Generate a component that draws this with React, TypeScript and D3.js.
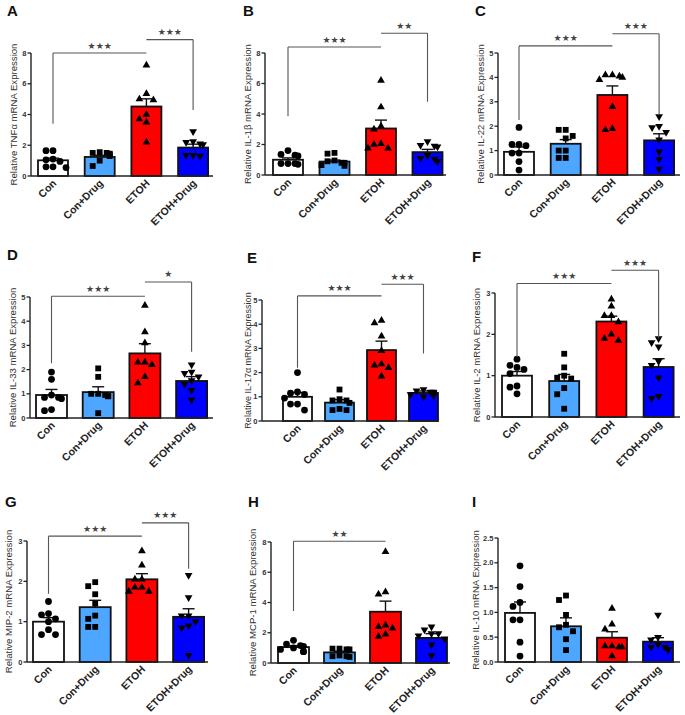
import React from 'react';
import * as d3 from 'd3';

const groups = ['Con', 'Con+Drug', 'ETOH', 'ETOH+Drug'];
const groupFills = ['#ffffff', '#4da6ff', '#ff0000', '#0000ff'];

// ---- Panel A: TNFα
const tnfTicks = [0, 2, 4, 6, 8];
const tnfMean = [1.02, 1.24, 4.52, 1.85];
const tnfSem = [0.14, 0.1, 0.5, 0.22];
const tnfPoints = [
  [1.65, 1.65, 1.05, 1.1, 0.95, 0.6, 0.55, 0.6],
  [1.55, 1.5, 1.5, 1.45, 1.4, 1.3, 1.0, 0.65],
  [7.2, 5.35, 5.0, 4.95, 4.0, 3.7, 3.5, 2.2],
  [2.9, 2.25, 2.2, 2.1, 2.05, 1.35, 1.35, 1.3],
];
const tnfSig = [
  { a: 0, b: 2, y: 8.0, leg: 3.4, side: 0, t: '***' },
  { a: 2, b: 3, y: 8.87, leg: 4.3, side: 1, t: '***' },
];

// ---- Panel B: IL-1β
const il1Ticks = [0, 2, 4, 6, 8];
const il1Mean = [1.0, 0.88, 3.05, 1.5];
const il1Sem = [0.12, 0.1, 0.55, 0.18];
const il1Points = [
  [1.6, 1.3, 1.35, 1.25, 0.75, 0.75, 0.7, 0.75],
  [1.45, 1.4, 0.9, 0.8, 0.8, 0.95, 0.65, 0.6],
  [6.2, 4.45, 3.2, 3.0, 2.05, 1.75, 1.75, 2.0],
  [2.2, 1.9, 1.85, 1.95, 1.3, 1.1, 0.9, 1.05],
];
const il1Sig = [
  { a: 0, b: 2, y: 8.39, leg: 3.85, side: 0, t: '***' },
  { a: 2, b: 3, y: 9.3, leg: 4.8, side: 1, t: '**' },
];

// ---- Panel C: IL-22
const il22Ticks = [0, 1, 2, 3, 4, 5];
const il22Mean = [0.95, 1.28, 3.28, 1.42];
const il22Sem = [0.2, 0.17, 0.37, 0.27];
const il22Points = [
  [1.95, 1.2, 1.25, 1.25, 0.9, 0.9, 0.55, 0.2],
  [1.85, 1.85, 1.6, 1.5, 1.0, 1.0, 0.7, 0.7],
  [4.05, 4.1, 4.1, 3.9, 4.0, 2.8, 1.85, 1.9],
  [2.4, 2.0, 1.95, 1.75, 1.45, 0.95, 0.65, 0.25],
];
const il22Sig = [
  { a: 0, b: 2, y: 5.29, leg: 2.25, side: 0, t: '***' },
  { a: 2, b: 3, y: 5.79, leg: 2.48, side: 1, t: '***' },
];

// ---- Panel D: IL-33
const il33Ticks = [0, 1, 2, 3, 4, 5];
const il33Mean = [0.95, 1.07, 2.67, 1.53];
const il33Sem = [0.23, 0.22, 0.4, 0.18];
const il33Points = [
  [1.9, 1.6, 0.95, 0.85, 0.85, 0.8, 0.35, 0.3],
  [2.05, 1.7, 1.0, 0.9, 0.9, 0.95, 1.0, 0.2],
  [4.65, 3.55, 3.1, 2.3, 2.2, 2.3, 1.45, 1.7],
  [2.2, 1.9, 1.85, 1.7, 1.55, 1.4, 1.15, 0.75],
];
const il33Sig = [
  { a: 0, b: 2, y: 5.03, leg: 2.26, side: 0, t: '***' },
  { a: 2, b: 3, y: 5.62, leg: 2.74, side: 1, t: '*' },
];

// ---- Panel E: IL-17α
const il17Ticks = [0, 1, 2, 3, 4, 5];
const il17Mean = [1.0, 0.76, 2.93, 1.16];
const il17Sem = [0.18, 0.12, 0.37, 0.08];
const il17Points = [
  [2.0, 1.2, 1.15, 1.1, 0.95, 0.7, 0.7, 0.45],
  [1.3, 0.9, 0.85, 0.85, 0.45, 0.45, 0.5, 0.75],
  [4.15, 4.05, 3.5, 2.9, 2.35, 2.2, 2.3, 1.85],
  [1.3, 1.25, 1.2, 1.2, 1.15, 1.1, 1.05, 1.0],
];
const il17Sig = [
  { a: 0, b: 2, y: 5.17, leg: 2.2, side: 0, t: '***' },
  { a: 2, b: 3, y: 5.65, leg: 2.79, side: 1, t: '***' },
];

// ---- Panel F: IL-2
const il2Ticks = [0, 1, 2, 3];
const il2Mean = [1.0, 0.87, 2.31, 1.21];
const il2Sem = [0.1, 0.16, 0.13, 0.2];
const il2Points = [
  [1.4, 1.25, 1.2, 1.15, 1.05, 0.75, 0.72, 0.56],
  [1.53, 1.2, 1.0, 0.95, 0.93, 0.7, 0.55, 0.2],
  [2.85, 2.68, 2.45, 2.45, 2.3, 2.0, 1.85, 1.9],
  [1.9, 1.8, 1.7, 1.35, 1.25, 0.95, 0.5, 0.45],
];
const il2Sig = [
  { a: 0, b: 2, y: 3.23, leg: 1.45, side: 0, t: '***' },
  { a: 2, b: 3, y: 3.55, leg: 1.9, side: 1, t: '***' },
];

// ---- Panel G: MIP-2
const mip2Ticks = [0, 1, 2, 3];
const mip2Mean = [1.0, 1.36, 2.05, 1.12];
const mip2Sem = [0.1, 0.17, 0.14, 0.2];
const mip2Points = [
  [1.5, 1.2, 1.17, 1.07, 1.0, 0.8, 0.68, 0.68],
  [1.98, 1.88, 1.68, 1.45, 1.15, 1.07, 0.87, 0.87],
  [2.75, 2.4, 2.05, 2.05, 1.85, 1.75, 1.75, 1.85],
  [2.15, 1.6, 1.15, 1.15, 1.0, 0.85, 0.9, 0.17],
];
const mip2Sig = [
  { a: 0, b: 2, y: 3.12, leg: 1.69, side: 0, t: '***' },
  { a: 2, b: 3, y: 3.45, leg: 2.31, side: 1, t: '***' },
];

// ---- Panel H: MCP-1
const mcp1Ticks = [0, 2, 4, 6, 8];
const mcp1Mean = [1.05, 0.7, 3.39, 1.66];
const mcp1Sem = [0.1, 0.08, 0.7, 0.28];
const mcp1Points = [
  [1.5, 1.25, 1.15, 1.1, 1.0, 0.9, 0.75, 0.75],
  [0.95, 0.95, 0.9, 0.9, 0.5, 0.45, 0.4, 0.45],
  [7.35, 4.7, 4.55, 2.4, 2.3, 2.5, 1.75, 1.9],
  [2.4, 2.2, 1.95, 1.95, 1.8, 1.6, 1.2, 0.5],
];
const mcp1Sig = [{ a: 0, b: 2, y: 8.05, leg: 3.44, side: 0, t: '**' }];

// ---- Panel I: IL-10
const il10Ticks = [0, 0.5, 1.0, 1.5, 2.0, 2.5];
const il10Mean = [0.99, 0.72, 0.49, 0.41];
const il10Sem = [0.22, 0.17, 0.12, 0.08];
const il10Points = [
  [1.94, 1.52, 1.2, 1.12, 0.85, 0.85, 0.4, 0.12],
  [1.34, 1.25, 0.95, 0.75, 0.62, 0.46, 0.24, 0.7],
  [1.08, 0.76, 0.66, 0.32, 0.3, 0.3, 0.32, 0.12],
  [0.95, 0.5, 0.45, 0.35, 0.3, 0.25, 0.25, 0.3],
];
const il10Sig: any[] = [];

const panels = [
  { letter: 'A', title: 'Relative TNFα mRNA Expression', ticks: tnfTicks, mean: tnfMean, sem: tnfSem, pts: tnfPoints, sig: tnfSig, fmt: '' },
  { letter: 'B', title: 'Relative IL-1β mRNA Expression', ticks: il1Ticks, mean: il1Mean, sem: il1Sem, pts: il1Points, sig: il1Sig, fmt: '' },
  { letter: 'C', title: 'Relative IL-22 mRNA Expression', ticks: il22Ticks, mean: il22Mean, sem: il22Sem, pts: il22Points, sig: il22Sig, fmt: '' },
  { letter: 'D', title: 'Relative IL-33 mRNA Expression', ticks: il33Ticks, mean: il33Mean, sem: il33Sem, pts: il33Points, sig: il33Sig, fmt: '' },
  { letter: 'E', title: 'Relative IL-17α mRNA Expression', ticks: il17Ticks, mean: il17Mean, sem: il17Sem, pts: il17Points, sig: il17Sig, fmt: '' },
  { letter: 'F', title: 'Relative IL-2 mRNA Expression', ticks: il2Ticks, mean: il2Mean, sem: il2Sem, pts: il2Points, sig: il2Sig, fmt: '' },
  { letter: 'G', title: 'Relative MIP-2 mRNA Expression', ticks: mip2Ticks, mean: mip2Mean, sem: mip2Sem, pts: mip2Points, sig: mip2Sig, fmt: '' },
  { letter: 'H', title: 'Relative MCP-1 mRNA Expression', ticks: mcp1Ticks, mean: mcp1Mean, sem: mcp1Sem, pts: mcp1Points, sig: mcp1Sig, fmt: '' },
  { letter: 'I', title: 'Relative IL-10 mRNA Expression', ticks: il10Ticks, mean: il10Mean, sem: il10Sem, pts: il10Points, sig: il10Sig, fmt: '.1f' },
];

// layout (pixels) for each panel
const layouts = [
  { axisX: 31, bar0: 38, step: 46.7, barW: 30, yTop: 53, yBot: 176, axisEnd: 213, lx: 7, ly: 16, tx: 13, tfs: 9.6 },
  { axisX: 265, bar0: 273, step: 46.5, barW: 30, yTop: 53, yBot: 175, axisEnd: 446, lx: 243, ly: 16, tx: 247, tfs: 9.6 },
  { axisX: 498, bar0: 504, step: 46.7, barW: 30, yTop: 53, yBot: 175, axisEnd: 680, lx: 475, ly: 16, tx: 480, tfs: 9.6 },
  { axisX: 30, bar0: 36, step: 46.7, barW: 31, yTop: 297, yBot: 418, axisEnd: 213, lx: 7, ly: 260, tx: 12, tfs: 9.6 },
  { axisX: 262, bar0: 283, step: 42, barW: 29, yTop: 300, yBot: 421, axisEnd: 438, lx: 247, ly: 263, tx: 248, tfs: 9 },
  { axisX: 495, bar0: 502, step: 47.2, barW: 30, yTop: 293, yBot: 417, axisEnd: 680, lx: 472, ly: 262, tx: 476, tfs: 9.6 },
  { axisX: 27, bar0: 33, step: 46.7, barW: 31, yTop: 541, yBot: 662, axisEnd: 208, lx: 5, ly: 507, tx: 8, tfs: 9.6 },
  { axisX: 271, bar0: 278, step: 46, barW: 31, yTop: 542, yBot: 663, axisEnd: 450, lx: 248, ly: 507, tx: 252, tfs: 9.6 },
  { axisX: 498, bar0: 505, step: 46, barW: 30, yTop: 538, yBot: 662, axisEnd: 680, lx: 472, ly: 507, tx: 475, tfs: 9.6 },
];

const FONT = "'Liberation Sans', Arial, Helvetica, sans-serif";
const symTypes = [d3.symbolCircle, d3.symbolSquare, d3.symbolTriangle, d3.symbolTriangle];
const symSizes = [36, 34, 26, 26];

function jitter(vals: number[], y: (v: number) => number) {
  const placed: { x: number; y: number }[] = [];
  const order = vals.map((_, i) => i).sort((a, b) => vals[b] - vals[a]);
  const res: number[] = new Array(vals.length).fill(0);
  const cands = [0, -7, 7, -13, 13, -3.5, 3.5, -10, 10];
  for (const i of order) {
    const yy = y(vals[i]);
    let chosen = cands[cands.length - 1];
    for (const c of cands) {
      if (placed.every((p) => Math.hypot(p.x - c, p.y - yy) >= 6.8)) {
        chosen = c;
        break;
      }
    }
    placed.push({ x: chosen, y: yy });
    res[i] = chosen;
  }
  return res;
}

function Panel({ p, L }: { p: any; L: any }) {
  const yMax = p.ticks[p.ticks.length - 1];
  const y = d3.scaleLinear().domain([0, yMax]).range([L.yBot, L.yTop]);
  const pad = 1 - L.barW / L.step;
  const r0 = L.bar0 - (L.step - L.barW) / 2;
  const x = d3
    .scaleBand()
    .domain(groups)
    .range([r0, r0 + L.step * groups.length])
    .paddingInner(pad)
    .paddingOuter(pad / 2);
  const bw = x.bandwidth();
  const cx = (i: number) => (x(groups[i]) as number) + bw / 2;
  const fmt = p.fmt ? d3.format(p.fmt) : (v: number) => String(v);
  const midY = (L.yTop + L.yBot) / 2;
  return (
    <g>
      <text x={L.lx} y={L.ly} fontFamily={FONT} fontWeight="bold" fontSize={15} fill="#111">
        {p.letter}
      </text>
      <text
        transform={`translate(${L.tx},${midY}) rotate(-90)`}
        textAnchor="middle"
        dominantBaseline="central"
        fontFamily={FONT}
        fontSize={L.tfs}
        fill="#333"
      >
        {p.title}
      </text>
      {/* bars */}
      {groups.map((g, i) => (
        <rect
          key={'b' + i}
          x={x(g)}
          y={y(p.mean[i])}
          width={bw}
          height={L.yBot - y(p.mean[i])}
          fill={groupFills[i]}
          stroke="#111"
          strokeWidth={1.8}
        />
      ))}
      {/* error bars */}
      {groups.map((g, i) => (
        <g key={'e' + i} stroke="#111" strokeWidth={1.4}>
          <line x1={cx(i)} x2={cx(i)} y1={y(p.mean[i])} y2={y(p.mean[i] + p.sem[i])} />
          <line x1={cx(i) - 6} x2={cx(i) + 6} y1={y(p.mean[i] + p.sem[i])} y2={y(p.mean[i] + p.sem[i])} />
        </g>
      ))}
      {/* points */}
      {groups.map((g, i) => {
        const offs = jitter(p.pts[i], y);
        const path = d3.symbol().type(symTypes[i]).size(symSizes[i])() as string;
        return (
          <g key={'p' + i}>
            {p.pts[i].map((v: number, j: number) => (
              <path
                key={j}
                d={path}
                fill="#000"
                transform={`translate(${cx(i) + offs[j]},${y(v)})${i === 3 ? ' rotate(180)' : ''}`}
              />
            ))}
          </g>
        );
      })}
      {/* axes */}
      <line x1={L.axisX} x2={L.axisX} y1={L.yTop} y2={L.yBot} stroke="#222" strokeWidth={1.4} />
      <line x1={L.axisX} x2={L.axisEnd} y1={L.yBot} y2={L.yBot} stroke="#222" strokeWidth={1.4} />
      {p.ticks.map((t: number) => (
        <g key={'t' + t}>
          <line x1={L.axisX - 3.5} x2={L.axisX} y1={y(t)} y2={y(t)} stroke="#222" strokeWidth={1.3} />
          <text
            x={L.axisX - 4.5}
            y={y(t)}
            textAnchor="end"
            dominantBaseline="central"
            fontFamily={FONT}
            fontWeight="bold"
            fontSize={7.5}
            fill="#333"
          >
            {fmt(t)}
          </text>
        </g>
      ))}
      {groups.map((g, i) => (
        <text
          key={'xl' + i}
          transform={`translate(${cx(i) + 4},${L.yBot + 8}) rotate(-45)`}
          textAnchor="end"
          fontFamily={FONT}
          fontWeight="bold"
          fontSize={10.5}
          fill="#222"
        >
          {g}
        </text>
      ))}
      {/* significance brackets */}
      {p.sig.map((s: any, k: number) => {
        const xa = cx(s.a);
        const xb = cx(s.b);
        const yl = y(s.y);
        const legX = s.side === 0 ? xa : xb;
        return (
          <g key={'s' + k}>
            <path
              d={`M${xa},${yl}H${xb}M${legX},${yl}V${y(s.leg)}`}
              fill="none"
              stroke="#555"
              strokeWidth={1.1}
            />
            <text
              x={(xa + xb) / 2}
              y={yl - 4.5}
              textAnchor="middle"
              fontFamily="'DejaVu Sans', sans-serif"
              fontSize={9}
              fill="#444"
            >
              {s.t.replace(/\*/g, '★')}
            </text>
          </g>
        );
      })}
    </g>
  );
}

export default function App() {
  return (
    <svg
      width={685}
      height={715}
      style={{ position: 'absolute', left: 0, top: 0, background: '#fff' }}
    >
      <rect width={685} height={715} fill="#fff" />
      {panels.map((p, i) => (
        <Panel key={p.letter} p={p} L={layouts[i]} />
      ))}
    </svg>
  );
}
